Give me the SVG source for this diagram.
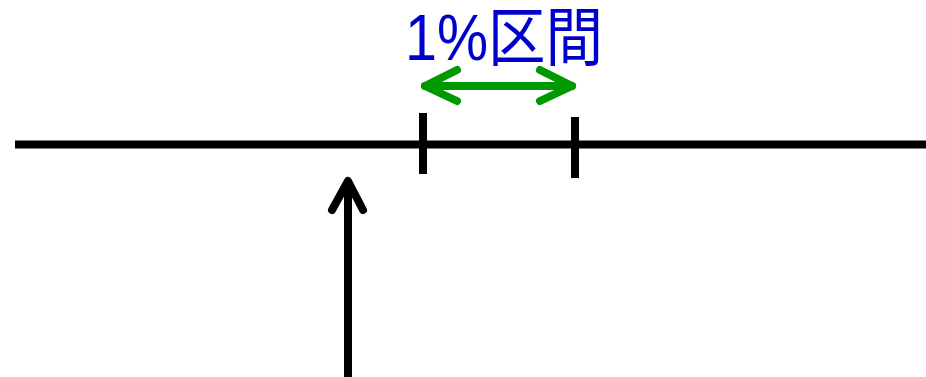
<svg xmlns="http://www.w3.org/2000/svg" width="926" height="377" viewBox="0 0 926 377">
<style>
.blk{stroke:#000;stroke-width:8;fill:none}
.grn{stroke:#009900;stroke-width:8;fill:none;stroke-linecap:round;stroke-linejoin:round}
.arr{stroke:#000;stroke-width:8;fill:none;stroke-linecap:round;stroke-linejoin:round}
.lbl{font-family:"Liberation Sans","Noto Sans CJK JP",sans-serif;font-size:64px;fill:#0000cc}
</style>
<rect width="926" height="377" fill="#fff"/>
<g id="axis">
<line class="blk" x1="15" y1="144.5" x2="926" y2="144.5"/>
</g>
<g id="tick1"><line class="blk" x1="423" y1="113" x2="423" y2="174"/></g>
<g id="tick2"><line class="blk" x1="575" y1="117" x2="575" y2="178"/></g>
<g id="label"><text class="lbl" x="405" y="60" textLength="198" lengthAdjust="spacingAndGlyphs">1%区間</text></g>
<g id="connectors">
<g id="interval-arrow">
<line class="grn" x1="425" y1="86" x2="572" y2="86"/>
<polyline class="grn" points="457,70 425,86 457,101"/>
<polyline class="grn" points="540,70 572,86 540,101"/>
</g>
<g id="pointer-arrow">
<line class="arr" x1="348" y1="182" x2="348" y2="381" style="stroke-linecap:butt"/>
<polyline class="arr" points="332,210 348,181 363,210"/>
</g>
</g>
</svg>
